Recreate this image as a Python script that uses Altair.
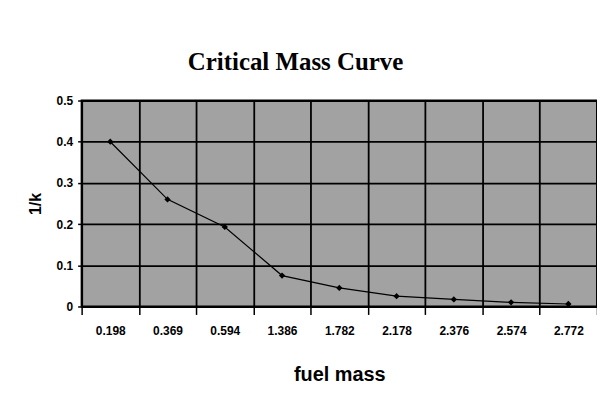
import altair as alt
import pandas as pd

fuel_mass = ["0.198", "0.369", "0.594", "1.386", "1.782", "2.178", "2.376", "2.574", "2.772"]
inv_k = [0.400, 0.260, 0.193, 0.075, 0.045, 0.025, 0.017, 0.010, 0.006]
y_ticks = [0, 0.1, 0.2, 0.3, 0.4, 0.5]

df = pd.DataFrame({"fuel mass": fuel_mass, "1/k": inv_k})

x_enc = alt.X(
    "fuel mass:N",
    sort=fuel_mass,
    scale=alt.Scale(type="band", paddingInner=0, paddingOuter=0),
    axis=alt.Axis(
        title="fuel mass",
        titleFont="Liberation Sans",
        titleFontSize=20,
        titleFontWeight="bold",
        titleColor="black",
        titlePadding=28,
        labelFont="Liberation Sans",
        labelFontSize=12,
        labelFontWeight="bold",
        labelColor="black",
        labelAngle=0,
        labelPadding=11,
        tickBand="extent",
        tickSize=8,
        tickColor="black",
        tickWidth=1.5,
        domainColor="black",
        domainWidth=2,
        grid=True,
        gridColor="black",
        gridWidth=1.8,
    ),
)
y_enc = alt.Y(
    "1/k:Q",
    scale=alt.Scale(domain=[0, 0.5], nice=False),
    axis=alt.Axis(
        values=y_ticks,
        format="~g",
        title="1/k",
        titleFont="Liberation Sans",
        titleFontSize=16,
        titleFontWeight="bold",
        titleColor="black",
        titlePadding=13,
        labelFont="Liberation Sans",
        labelFontSize=12,
        labelFontWeight="bold",
        labelColor="black",
        labelPadding=5,
        tickSize=4,
        tickColor="black",
        tickWidth=1.5,
        domainColor="black",
        domainWidth=2,
        grid=True,
        gridColor="black",
        gridWidth=1.8,
    ),
)

line = alt.Chart(df).mark_line(color="black", strokeWidth=1.2).encode(x=x_enc, y=y_enc)
pts = alt.Chart(df).mark_point(
    shape="diamond", filled=True, color="black", size=40, opacity=1
).encode(x=alt.X("fuel mass:N", sort=fuel_mass), y="1/k:Q")

chart = (
    alt.layer(line, pts)
    .properties(
        width=518,
        height=207,
        autosize=alt.AutoSizeParams(type="none"),
        padding={"left": 74, "top": 92, "right": 0, "bottom": 90},
        title=alt.TitleParams(
            "Critical Mass Curve",
            font="Liberation Serif",
            fontSize=25,
            fontWeight="bold",
            color="black",
            anchor="middle",
            dx=-44,
            offset=20,
        ),
        background="white",
    )
    .configure_view(fill="#a2a2a2", stroke="black", strokeWidth=2)
)

chart.save("out.html", embed_options={"renderer": "svg", "actions": False})
